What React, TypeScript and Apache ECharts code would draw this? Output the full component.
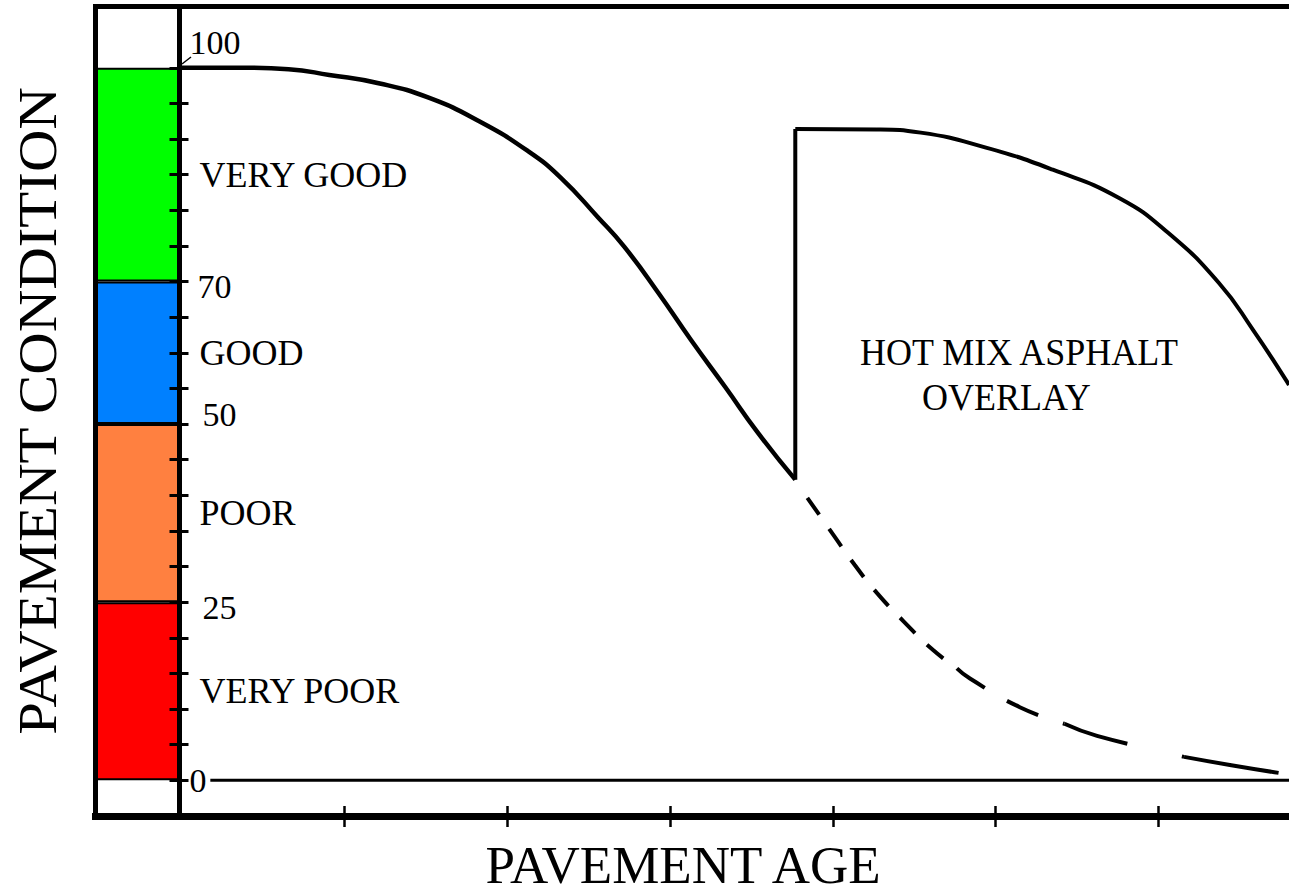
import React, { useEffect, useRef } from "react";
import * as echarts from "echarts";

// ---- Condition bands (left colour strip) ----
const bandNames = ["VERY POOR", "POOR", "GOOD", "VERY GOOD"];
const bandLower = [0, 25, 50, 70];
const bandUpper = [25, 50, 70, 100];
const bandLabelAt = [12.5, 37.5, 60, 85];
const bandColors = ["#ff0000", "#ff8040", "#0080ff", "#00ff00"];

// ---- Axis ticks / labels ----
const conditionTickValues = [0, 5, 10, 15, 20, 25, 30, 35, 40, 45, 50, 55, 60, 65, 70, 75, 80, 85, 90, 95, 100];
const conditionLabelValues = [0, 25, 50, 70, 100];
const ageTickValues = [5, 10, 15, 20, 25, 30];

// ---- Original pavement deterioration curve ----
const originalAge = [0, 2.0, 3.3, 4.55, 6.1, 7.6, 9.15, 10.65, 11.65, 12.8, 13.6, 14.65, 15.65, 16.7, 17.7, 18.85];
const originalCondition = [100, 100, 99.8, 99.0, 97.8, 95.8, 92.5, 88.3, 84.6, 79.0, 74.9, 68.4, 61.8, 55.2, 48.8, 42.2];

// ---- Overlay (jump + new curve) ----
const jumpAge = [18.85, 18.85];
const jumpCondition = [42.2, 91.4];
const overlayAge = [18.85, 21.35, 22.7, 24.7, 26.75, 28.8, 30.3, 31.85, 32.9, 33.85, 34];
const overlayCondition = [91.4, 91.35, 90.9, 88.8, 85.7, 81.7, 76.8, 69.8, 63.2, 56.6, 55.5];

// ---- Without overlay (dashed continuation) ----
const noOverlayAgeA = [19.22, 20.04, 20.67, 21.36, 22.18, 23.07, 23.81];
const noOverlayCondA = [39.65, 34.32, 30.25, 26.27, 22.29, 18.32, 15.72];
const noOverlayAgeB = [23.81, 24.21, 25.74, 27.11];
const noOverlayCondB = [15.72, 14.29, 10.27, 7.94];
const noOverlayAgeC = [27.11, 28.11, 30.78];
const noOverlayCondC = [7.94, 6.25, 3.3];
const noOverlayAgeD = [30.78, 32.23, 33.68];
const noOverlayCondD = [3.3, 2.13, 1.05];

// ---- Zero reference line ----
const zeroLineAge = [0.9, 34];
const zeroLineCondition = [0, 0];

const zip = (xs: number[], ys: number[]) => xs.map((x, i) => [x, ys[i]]);

const FONT = "Liberation Serif";
const Y_MIN = -5;
const Y_MAX = 108.6;

export default function App() {
  const ref = useRef<HTMLDivElement>(null);

  useEffect(() => {
    if (!ref.current) return;
    const chart = echarts.init(ref.current, undefined, { renderer: "svg" });

    const labelToken: Record<string, string> = {};
    conditionLabelValues.forEach((v) => (labelToken[String(v)] = `{n${v}|${v}}`));
    bandLabelAt.forEach((v, i) => (labelToken[String(v)] = `{w|${bandNames[i]}}`));

    const num = (pad: number[]) => ({ fontFamily: FONT, fontSize: 34, color: "#000", padding: pad });

    const lineSeries = (name: string, xs: number[], ys: number[], width: number, extra: any = {}) => ({
      type: "line",
      name,
      xAxisIndex: 0,
      yAxisIndex: 0,
      data: zip(xs, ys),
      symbol: "none",
      silent: true,
      z: 6,
      smooth: extra.smooth !== undefined ? extra.smooth : false,
      lineStyle: { color: "#000", width, ...(extra.lineStyle || {}) },
    });

    const option: any = {
      animation: false,
      backgroundColor: "#ffffff",
      grid: [
        { left: 181, top: 6.5, width: 1112.5, height: 809.5 },
        { left: 95.5, top: 6.5, width: 84, height: 809.5 },
      ],
      xAxis: [
        {
          gridIndex: 0, type: "value", min: 0, max: 34, position: "bottom", z: 5,
          axisLine: { show: true, onZero: false, lineStyle: { color: "#000", width: 7, cap: "square" } },
          axisTick: { show: true, customValues: ageTickValues, length: 11, lineStyle: { color: "#000", width: 2.5 } },
          axisLabel: { show: false }, splitLine: { show: false },
        },
        {
          gridIndex: 0, type: "value", min: 0, max: 34, position: "top", z: 5,
          axisLine: { show: true, onZero: false, lineStyle: { color: "#000", width: 5, cap: "square" } },
          axisTick: { show: false }, axisLabel: { show: false }, splitLine: { show: false },
        },
        {
          gridIndex: 0, type: "value", min: 0, max: 34, position: "bottom", z: 5,
          axisLine: { show: false, onZero: false },
          axisTick: { show: true, inside: true, customValues: ageTickValues, length: 10, lineStyle: { color: "#000", width: 2.5 } },
          axisLabel: { show: false }, splitLine: { show: false },
        },
        {
          gridIndex: 1, type: "category", data: [""], position: "bottom", z: 5,
          axisLine: { show: true, onZero: false, lineStyle: { color: "#000", width: 7, cap: "square" } },
          axisTick: { show: false }, axisLabel: { show: false }, splitLine: { show: false },
        },
        {
          gridIndex: 1, type: "category", data: [""], position: "top", z: 5,
          axisLine: { show: true, onZero: false, lineStyle: { color: "#000", width: 5, cap: "square" } },
          axisTick: { show: false }, axisLabel: { show: false }, splitLine: { show: false },
        },
      ],
      yAxis: [
        {
          gridIndex: 0, type: "value", min: Y_MIN, max: Y_MAX, position: "left", offset: 1.5, z: 5,
          axisLine: { show: true, onZero: false, lineStyle: { color: "#000", width: 5, cap: "square" } },
          axisTick: { show: true, customValues: conditionTickValues, length: 10, lineStyle: { color: "#000", width: 3 } },
          axisLabel: { show: false }, splitLine: { show: false },
        },
        {
          gridIndex: 0, type: "value", min: Y_MIN, max: Y_MAX, position: "left", offset: 1.5, z: 5,
          axisLine: { show: false, onZero: false },
          axisTick: { show: true, inside: true, customValues: conditionTickValues, length: 9, lineStyle: { color: "#000", width: 3 } },
          axisLabel: {
            show: true,
            inside: true,
            margin: 10,
            customValues: [...conditionLabelValues, ...bandLabelAt],
            formatter: (v: number) => labelToken[String(v)] || "",
            rich: {
              n0: num([0, 0, 0, 0]),
              n25: num([10, 0, 0, 13]),
              n50: num([0, 0, 20, 13]),
              n70: num([10, 0, 0, 8]),
              n100: num([0, 0, 50, 0]),
              w: { fontFamily: FONT, fontSize: 36, color: "#000", padding: [0, 0, 0, 10] },
            },
          },
          splitLine: { show: false },
        },
        {
          gridIndex: 1, type: "value", min: Y_MIN, max: Y_MAX, position: "left", z: 5,
          axisLine: { show: true, onZero: false, lineStyle: { color: "#000", width: 5, cap: "square" } },
          axisTick: { show: false }, axisLabel: { show: false }, splitLine: { show: false },
        },
      ],
      series: [
        ...bandNames.map((name, i) => ({
          type: "bar",
          name,
          xAxisIndex: 3,
          yAxisIndex: 2,
          stack: "bands",
          barWidth: "100%",
          silent: true,
          z: 2,
          data: [bandUpper[i] - bandLower[i]],
          itemStyle: { color: bandColors[i], borderColor: "#000", borderWidth: 2 },
        })),
        lineSeries("Zero", zeroLineAge, zeroLineCondition, 3),
        lineSeries("Original pavement", originalAge, originalCondition, 4.5, { smooth: 0.5 }),
        lineSeries("Overlay placed", jumpAge, jumpCondition, 4),
        lineSeries("Hot mix asphalt overlay", overlayAge, overlayCondition, 4, { smooth: 0.5 }),
        lineSeries("Without overlay", noOverlayAgeA, noOverlayCondA, 4, { smooth: 0.5, lineStyle: { type: [21, 17] } }),
        lineSeries("Without overlay ", noOverlayAgeB, noOverlayCondB, 4, { smooth: 0.5, lineStyle: { type: [34, 26] } }),
        lineSeries("Without overlay  ", noOverlayAgeC, noOverlayCondC, 4, { smooth: 0.5, lineStyle: { type: [66, 56] } }),
        lineSeries("Without overlay   ", noOverlayAgeD, noOverlayCondD, 4, { smooth: 0.5 }),
      ],
      graphic: [
        {
          type: "line", z: 10, silent: true,
          shape: { x1: 182, y1: 64, x2: 191, y2: 57 },
          style: { stroke: "#000", lineWidth: 1.5 },
        },
        {
          type: "text", z: 10, silent: true, x: 860, y: 352, scaleY: 1.08,
          style: { text: "HOT MIX ASPHALT", fontFamily: FONT, fontSize: 36, fill: "#000", align: "left", verticalAlign: "middle" },
        },
        {
          type: "text", z: 10, silent: true, x: 922, y: 397, scaleY: 1.08,
          style: { text: "OVERLAY", fontFamily: FONT, fontSize: 36, fill: "#000", align: "left", verticalAlign: "middle" },
        },
        {
          type: "text", z: 10, silent: true, x: 683, y: 865,
          style: { text: "PAVEMENT AGE", fontFamily: FONT, fontSize: 53, lineHeight: 46, fill: "#000", align: "center", verticalAlign: "middle" },
        },
        {
          type: "text", z: 10, silent: true, x: 37, y: 411, rotation: Math.PI / 2, scaleX: 1.07,
          style: { text: "PAVEMENT CONDITION", fontFamily: FONT, fontSize: 55, fill: "#000", align: "center", verticalAlign: "middle" },
        },
      ],
    };

    chart.setOption(option);
    return () => chart.dispose();
  }, []);

  return (
    <div
      ref={ref}
      style={{ position: "fixed", left: 0, top: 0, width: 1289, height: 895, background: "#fff" }}
    />
  );
}
